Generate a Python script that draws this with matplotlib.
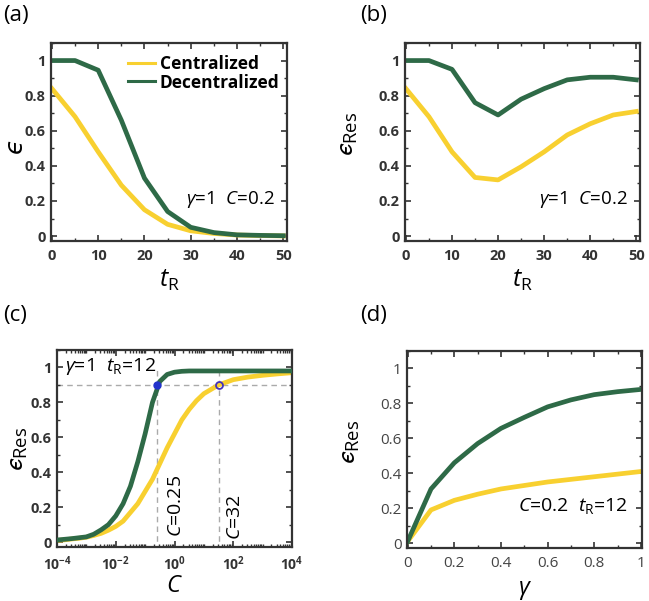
import numpy as np
import matplotlib
matplotlib.use("Agg")
import matplotlib.pyplot as plt
from matplotlib.ticker import MultipleLocator, LogLocator, FixedLocator, FuncFormatter, NullFormatter

plt.rcParams['font.family'] = ['Open Sans', 'DejaVu Sans']
plt.rcParams['mathtext.fontset'] = 'custom'
plt.rcParams['mathtext.rm'] = 'Open Sans'
plt.rcParams['mathtext.it'] = 'Open Sans:italic'
plt.rcParams['mathtext.bf'] = 'Open Sans:bold'
plt.rcParams['mathtext.fallback'] = 'stixsans'

YEL = '#F8D030'
GRN = '#2E6A47'
SPINE = '#333333'

# ---- data ----
tR = [0, 5, 10, 15, 20, 25, 30, 35, 40, 45, 50]
a_cent = [0.84, 0.68, 0.48, 0.29, 0.15, 0.067, 0.03, 0.015, 0.006, 0.003, 0.001]
a_dec = [1.0, 1.0, 0.945, 0.66, 0.33, 0.14, 0.05, 0.02, 0.007, 0.004, 0.002]

b_cent = [0.84, 0.68, 0.48, 0.334, 0.32, 0.395, 0.48, 0.576, 0.64, 0.69, 0.71]
b_dec = [1.0, 1.0, 0.95, 0.76, 0.69, 0.78, 0.84, 0.89, 0.905, 0.905, 0.89]

logC = [-4, -3.75, -3.5, -3.25, -3, -2.75, -2.5, -2.25, -2, -1.75, -1.5, -1.25, -1,
        -0.75, -0.5, -0.25, 0, 0.25, 0.5, 0.75, 1, 1.5, 2, 2.5, 3, 3.5, 4]
c_dec = [0.012, 0.016, 0.02, 0.025, 0.03, 0.045, 0.07, 0.10, 0.15, 0.22, 0.32, 0.46, 0.62,
         0.80, 0.92, 0.96, 0.973, 0.978, 0.98, 0.98, 0.98, 0.98, 0.98, 0.98, 0.98, 0.98, 0.98]
c_cent = [0.01, 0.013, 0.018, 0.022, 0.028, 0.038, 0.05, 0.068, 0.09, 0.12, 0.17, 0.22, 0.29,
          0.36, 0.45, 0.54, 0.62, 0.70, 0.76, 0.81, 0.85, 0.90, 0.93, 0.945, 0.955, 0.963, 0.97]
C_ticks = [1e-4, 1e-2, 1e0, 1e2, 1e4]
C_marks = [0.25, 32]
eps_mark = 0.9

gam = [0, 0.1, 0.2, 0.3, 0.4, 0.5, 0.6, 0.7, 0.8, 0.9, 1.0]
d_cent = [0.01, 0.19, 0.245, 0.28, 0.31, 0.33, 0.35, 0.365, 0.38, 0.395, 0.41]
d_dec = [0.01, 0.31, 0.46, 0.57, 0.657, 0.72, 0.78, 0.82, 0.85, 0.867, 0.88]

fig = plt.figure(figsize=(6.49, 6.01), dpi=100)
W, H = 649, 601

def add_ax(l, t, r, b):
    return fig.add_axes([l / W, 1 - b / H, (r - l) / W, (b - t) / H])

axA = add_ax(51, 43, 287, 241)
axB = add_ax(405, 43, 640, 241)
axC = add_ax(57, 350, 292, 547)
axD = add_ax(407, 351, 642, 548)

LW = 3.4

def style(ax, bold=True, lsize=10.5):
    for s in ax.spines.values():
        s.set_linewidth(1.6)
        s.set_color(SPINE)
    ax.tick_params(which='both', direction='in', top=True, right=True, color=SPINE,
                   labelsize=lsize, labelcolor='#333333', pad=4)
    ax.tick_params(axis='x', pad=6)
    ax.tick_params(which='major', length=4, width=1.2)
    ax.tick_params(which='minor', length=2.5, width=1.0)
    for lab in ax.get_xticklabels() + ax.get_yticklabels():
        lab.set_fontweight('bold' if bold else 'normal')
    ax.set_ylim(-0.028, 1.1)
    ax.yaxis.set_major_locator(MultipleLocator(0.2))
    ax.yaxis.set_minor_locator(MultipleLocator(0.1))
    ax.yaxis.set_major_formatter(FuncFormatter(lambda v, p: '0' if abs(v) < 1e-9 else ('1' if abs(v - 1) < 1e-9 else f'{v:g}')))

EPSR = r'$ϵ_{\mathrm{Res}}$'
TR = r'$t_{\mathrm{R}}$'

# (a)
axA.plot(tR, a_cent, color=YEL, lw=LW, label='Centralized', solid_joinstyle='round')
axA.plot(tR, a_dec, color=GRN, lw=LW, label='Decentralized', solid_joinstyle='round')
axA.set_xlim(-0.2, 50.8)
axA.xaxis.set_major_locator(MultipleLocator(10))
axA.xaxis.set_minor_locator(MultipleLocator(5))
style(axA)
leg = axA.legend(loc='upper right', bbox_to_anchor=(1.035, 1.02), frameon=False, handlelength=1.55,
                 handletextpad=0.3, labelspacing=0.05, prop={'weight': 'bold', 'size': 12.5})
for l in leg.get_lines():
    l.set_linewidth(2.2)
axA.text(0.95, 0.21, r'$\gamma$=1  $C$=0.2', transform=axA.transAxes, ha='right', va='center', fontsize=13.5)
axA.set_xlabel(TR, fontsize=18, labelpad=3)
axA.set_ylabel('ϵ', fontsize=18, family='DejaVu Sans', style='italic')
axA.yaxis.set_label_coords(-0.10, 0.48)

# (b)
axB.plot(tR, b_cent, color=YEL, lw=LW, solid_joinstyle='round')
axB.plot(tR, b_dec, color=GRN, lw=LW, solid_joinstyle='round')
axB.set_xlim(-0.2, 50.8)
axB.xaxis.set_major_locator(MultipleLocator(10))
axB.xaxis.set_minor_locator(MultipleLocator(5))
style(axB)
axB.text(0.95, 0.21, r'$\gamma$=1  $C$=0.2', transform=axB.transAxes, ha='right', va='center', fontsize=13.5)
axB.set_xlabel(TR, fontsize=18, labelpad=3)
axB.set_ylabel(EPSR, fontsize=19)
axB.yaxis.set_label_coords(-0.19, 0.54)

# (c)
Cvals = [10.0 ** v for v in logC]
axC.set_xscale('log')
axC.set_xlim(1e-4, 1e4)
axC.axhline(eps_mark, color='#AAAAAA', lw=1.0, ls=(0, (4, 3)), zorder=1)
for cm in C_marks:
    axC.plot([cm, cm], [-0.05, 1.0], color='#AAAAAA', lw=1.0, ls=(0, (4, 3)), zorder=1)
axC.plot(Cvals, c_cent, color=YEL, lw=LW, zorder=2)
axC.plot(Cvals, c_dec, color=GRN, lw=LW, zorder=3)
axC.plot([C_marks[0]], [eps_mark], 'o', ms=5, mfc='#2233CC', mec='#2233CC', zorder=4)
axC.plot([C_marks[1]], [eps_mark], 'o', ms=5, mfc='none', mec='#4433BB', mew=1.3, zorder=4)
axC.xaxis.set_major_locator(FixedLocator(C_ticks))
axC.xaxis.set_minor_locator(LogLocator(base=10.0, subs=np.arange(1, 10), numticks=100))
axC.xaxis.set_minor_formatter(NullFormatter())
axC.xaxis.set_major_formatter(FuncFormatter(lambda v, p: r'$\mathbf{10^{%d}}$' % int(round(np.log10(v)))))
style(axC)
axC.set_xlim(1e-4, 1e4)
axC.tick_params(axis='x', labelsize=10, pad=5)
axC.text(0.035, 0.915, r'$\gamma$=1  $t_{\mathrm{R}}$=12', transform=axC.transAxes, ha='left', va='center', fontsize=14)
axC.text(0.55, 0.21, r'$C$=0.25', ha='left', va='center', rotation=90, fontsize=14, transform=axC.get_xaxis_transform())
axC.text(58, 0.15, r'$C$=32', ha='left', va='center', rotation=90, fontsize=14, transform=axC.get_xaxis_transform())
axC.set_xlabel(r'$C$', fontsize=17, labelpad=1)
axC.set_ylabel(EPSR, fontsize=19)
axC.yaxis.set_label_coords(-0.115, 0.5)

# (d)
axD.plot(gam, d_cent, color=YEL, lw=LW, solid_joinstyle='round')
axD.plot(gam, d_dec, color=GRN, lw=LW, solid_joinstyle='round')
axD.set_xlim(-0.003, 1.005)
axD.xaxis.set_major_locator(MultipleLocator(0.2))
axD.xaxis.set_minor_locator(MultipleLocator(0.1))
axD.xaxis.set_major_formatter(FuncFormatter(lambda v, p: '0' if abs(v) < 1e-9 else ('1' if abs(v - 1) < 1e-9 else f'{v:g}')))
style(axD, bold=False, lsize=11)
axD.tick_params(labelcolor='#444444')
axD.text(0.94, 0.215, r'$C$=0.2  $t_{\mathrm{R}}$=12', transform=axD.transAxes, ha='right', va='center', fontsize=14)
axD.set_xlabel(r'$\gamma$', fontsize=17, labelpad=5)
axD.set_ylabel(EPSR, fontsize=19)
axD.yaxis.set_label_coords(-0.19, 0.54)

for txt, x, y in [('(a)', 3, 16), ('(b)', 360, 16), ('(c)', 3, 316), ('(d)', 360, 316)]:
    fig.text(x / W, 1 - y / H, txt, fontsize=16, ha='left', va='center')

fig.savefig('out.png', dpi=100)
